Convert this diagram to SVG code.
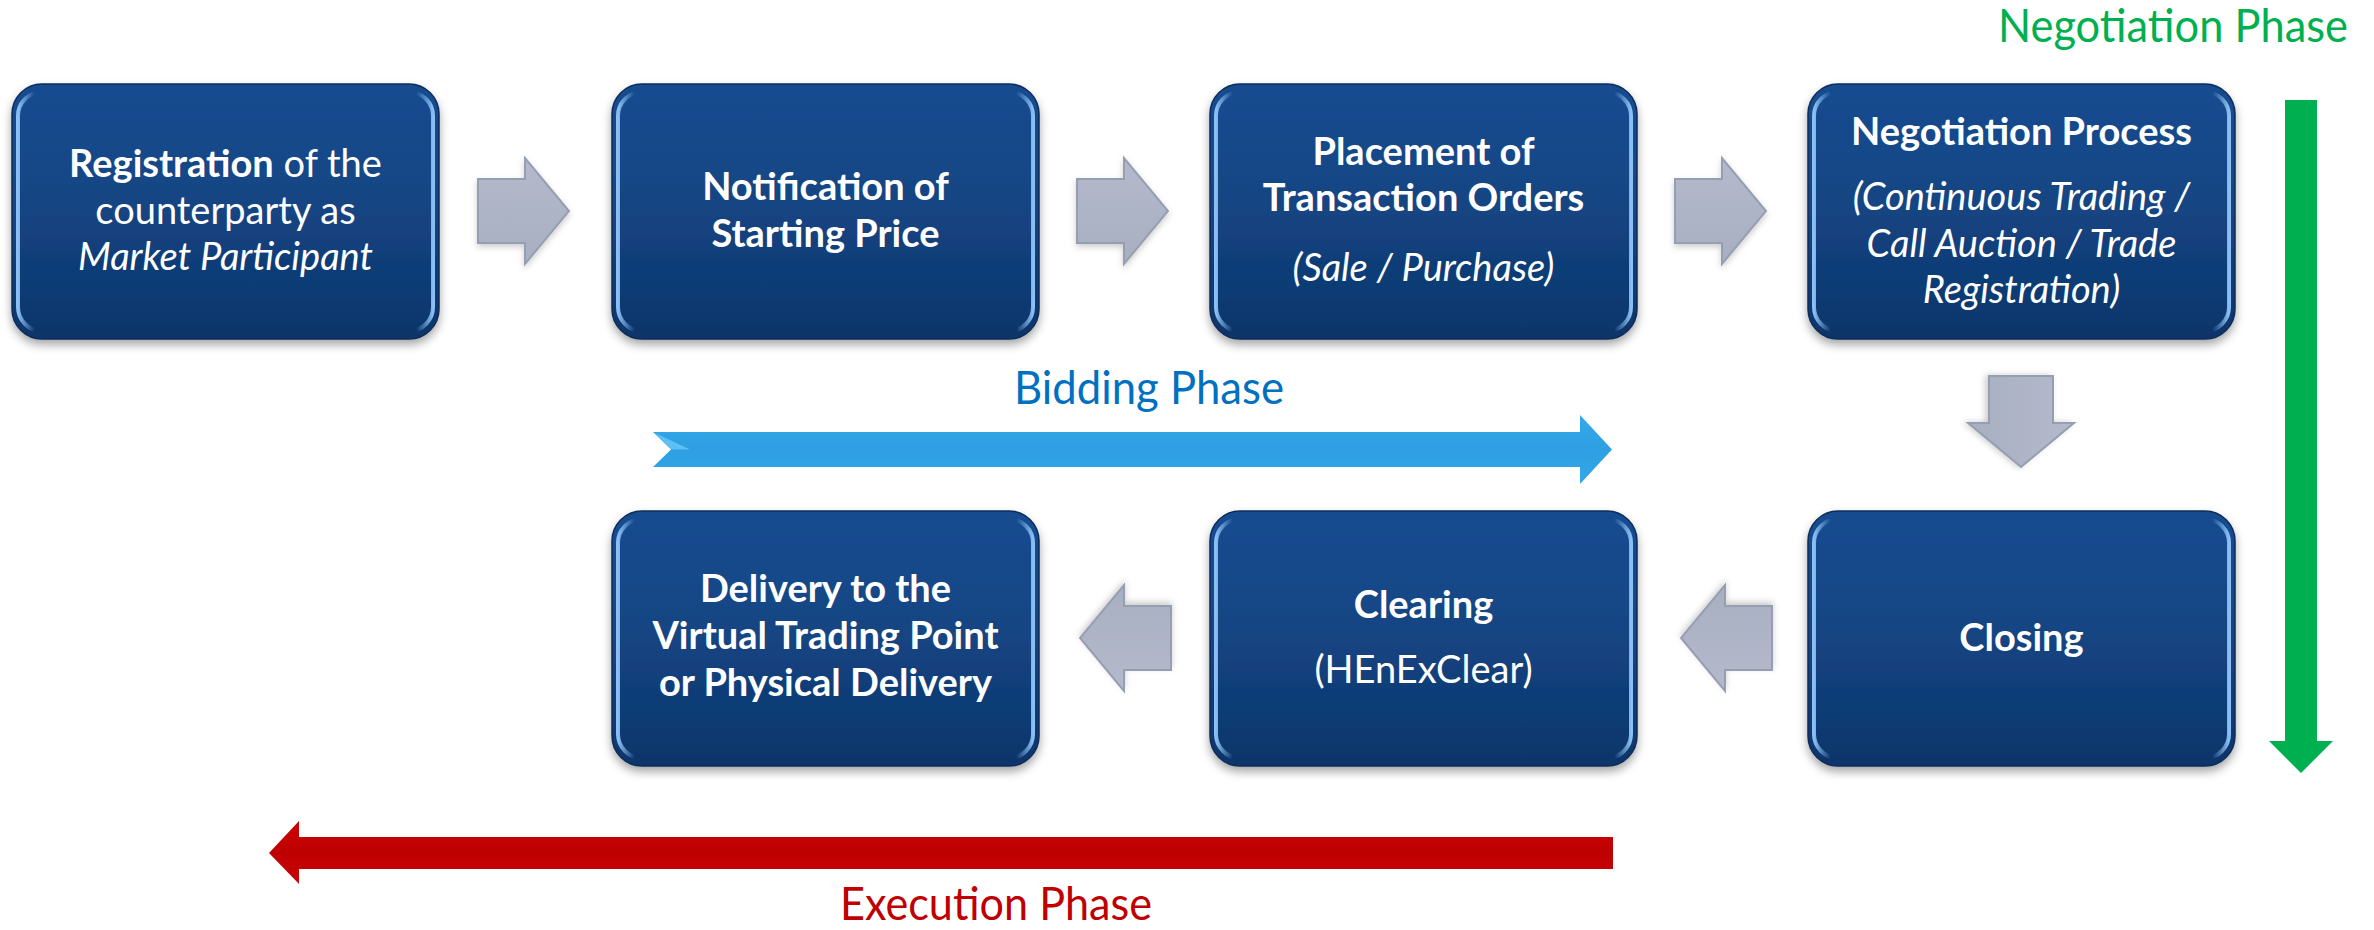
<svg xmlns="http://www.w3.org/2000/svg" width="2374" height="930" viewBox="0 0 2374 930">
<defs>
<linearGradient id="boxFill" x1="0" y1="0" x2="0" y2="1">
<stop offset="0" stop-color="#154c90"/>
<stop offset="0.5" stop-color="#134482"/>
<stop offset="1" stop-color="#0e356a"/>
</linearGradient>
<linearGradient id="rim" x1="0" y1="0" x2="1" y2="0">
<stop offset="0" stop-color="#8cc0f5" stop-opacity="1"/>
<stop offset="0.04" stop-color="#8cc0f5" stop-opacity="0"/>
<stop offset="0.96" stop-color="#8cc0f5" stop-opacity="0"/>
<stop offset="1" stop-color="#8cc0f5" stop-opacity="1"/>
</linearGradient>
<linearGradient id="grayFill" x1="0" y1="0" x2="0" y2="1">
<stop offset="0" stop-color="#b4bacb"/>
<stop offset="1" stop-color="#a8afc1"/>
</linearGradient>
<linearGradient id="blueFill" x1="0" y1="0" x2="0" y2="1">
<stop offset="0" stop-color="#34a9ea"/>
<stop offset="0.5" stop-color="#2d9fe2"/>
<stop offset="1" stop-color="#33a8e9"/>
</linearGradient>
<linearGradient id="redFill" x1="0" y1="0" x2="0" y2="1">
<stop offset="0" stop-color="#c80508"/>
<stop offset="0.5" stop-color="#bf0000"/>
<stop offset="1" stop-color="#c60407"/>
</linearGradient>
<filter id="shadow" x="-10%" y="-10%" width="120%" height="125%">
<feDropShadow dx="0" dy="5" stdDeviation="5" flood-color="#000" flood-opacity="0.35"/>
</filter>
<filter id="ashadow" x="-20%" y="-20%" width="140%" height="150%">
<feDropShadow dx="0" dy="3" stdDeviation="3" flood-color="#000" flood-opacity="0.2"/>
</filter>
<path id="gArrow" d="M0,-32 L47,-32 L47,-53 L91,0 L47,53 L47,32 L0,32 Z"/>
</defs>
<style>
.box{fill:url(#boxFill);stroke:#0b2d5a;stroke-width:1.5;filter:url(#shadow);}
.rim{fill:none;stroke:url(#rim);stroke-width:4;}
.t{font-family:Lato,"Open Sans","Liberation Sans",sans-serif;font-size:38px;fill:#ffffff;text-anchor:middle;}
.b{font-weight:bold;}
.i{font-style:italic;}
.ga{fill:url(#grayFill);stroke:#969eb2;stroke-width:2;filter:url(#ashadow);}
.ph{font-family:Lato,"Open Sans","Liberation Sans",sans-serif;font-size:46px;text-anchor:middle;}
</style>
<rect width="2374" height="930" fill="#ffffff"/>

<g id="connectors">
<use href="#gArrow" class="ga" transform="translate(478,211)"/>
<use href="#gArrow" class="ga" transform="translate(1077,211)"/>
<use href="#gArrow" class="ga" transform="translate(1675,211)"/>
<use href="#gArrow" class="ga" transform="translate(2021,376) rotate(90)"/>
<use href="#gArrow" class="ga" transform="translate(1772,638) rotate(180)"/>
<use href="#gArrow" class="ga" transform="translate(1171,638) rotate(180)"/>
</g>

<g id="phase-bidding">
<polygon points="653,432 1580,432 1580,415 1612,449.5 1580,484 1580,467 653,467 671,449.5" fill="url(#blueFill)"/>
<polygon points="655,433 671,449.5 690,449.5" fill="#7fd6ff" opacity="0.6"/>
<text class="ph" x="1149" y="404" fill="#0070c0" textLength="270" lengthAdjust="spacingAndGlyphs">Bidding Phase</text>
</g>

<g id="phase-negotiation">
<polygon points="2285,100 2317,100 2317,741 2333,741 2301,773 2269,741 2285,741" fill="#00b050"/>
<text class="ph" x="2173" y="42" fill="#00b050" textLength="350" lengthAdjust="spacingAndGlyphs">Negotiation Phase</text>
</g>

<g id="phase-execution">
<polygon points="1613,837 299,837 299,821 269,853 299,884 299,869 1613,869" fill="url(#redFill)"/>
<text class="ph" x="996" y="920" fill="#c00000" textLength="312" lengthAdjust="spacingAndGlyphs">Execution Phase</text>
</g>

<g id="node-registration">
<rect class="box" x="12" y="84" width="427" height="255" rx="30"/>
<rect class="rim" x="18" y="92" width="415" height="239" rx="24"/>
<text class="t" x="225.5" y="177"><tspan class="b">Registration</tspan> of the</text>
<text class="t" x="225.5" y="224">counterparty as</text>
<text class="t i" x="225.5" y="270">Market Participant</text>
</g>

<g id="node-notification">
<rect class="box" x="612" y="84" width="427" height="255" rx="30"/>
<rect class="rim" x="618" y="92" width="415" height="239" rx="24"/>
<text class="t b" x="825.5" y="200">Notification of</text>
<text class="t b" x="825.5" y="247">Starting Price</text>
</g>

<g id="node-placement">
<rect class="box" x="1210" y="84" width="427" height="255" rx="30"/>
<rect class="rim" x="1216" y="92" width="415" height="239" rx="24"/>
<text class="t b" x="1423.5" y="165">Placement of</text>
<text class="t b" x="1423.5" y="211">Transaction Orders</text>
<text class="t i" x="1423.5" y="281">(Sale / Purchase)</text>
</g>

<g id="node-negotiation">
<rect class="box" x="1808" y="84" width="427" height="255" rx="30"/>
<rect class="rim" x="1814" y="92" width="415" height="239" rx="24"/>
<text class="t b" x="2021.5" y="145">Negotiation Process</text>
<text class="t i" x="2021.5" y="210">(Continuous Trading /</text>
<text class="t i" x="2021.5" y="257">Call Auction / Trade</text>
<text class="t i" x="2021.5" y="303">Registration)</text>
</g>

<g id="node-closing">
<rect class="box" x="1808" y="511" width="427" height="255" rx="30"/>
<rect class="rim" x="1814" y="519" width="415" height="239" rx="24"/>
<text class="t b" x="2021.5" y="651">Closing</text>
</g>

<g id="node-clearing">
<rect class="box" x="1210" y="511" width="427" height="255" rx="30"/>
<rect class="rim" x="1216" y="519" width="415" height="239" rx="24"/>
<text class="t b" x="1423.5" y="618">Clearing</text>
<text class="t" x="1423.5" y="683">(HEnExClear)</text>
</g>

<g id="node-delivery">
<rect class="box" x="612" y="511" width="427" height="255" rx="30"/>
<rect class="rim" x="618" y="519" width="415" height="239" rx="24"/>
<text class="t b" x="825.5" y="602">Delivery to the</text>
<text class="t b" x="825.5" y="649">Virtual Trading Point</text>
<text class="t b" x="825.5" y="696">or Physical Delivery</text>
</g>
</svg>
